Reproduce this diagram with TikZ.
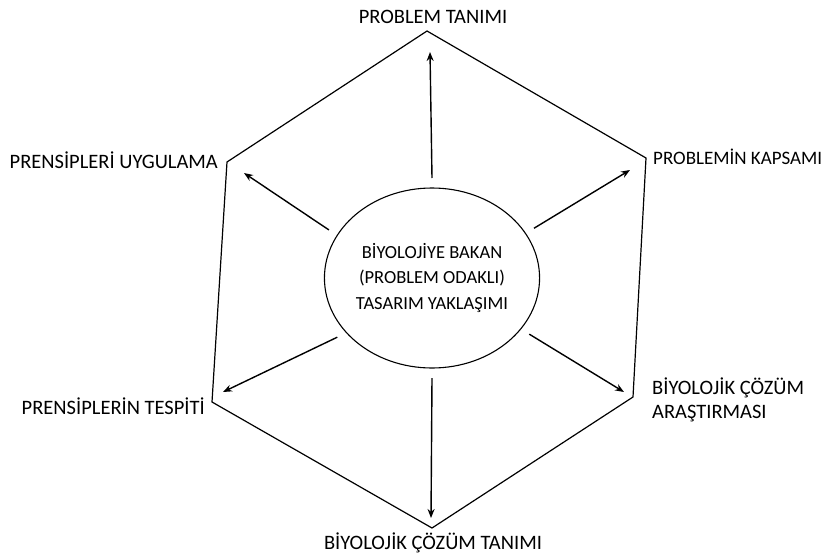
\documentclass[tikz,border=0pt]{standalone}
\usepackage{fontspec}
\setmainfont{Carlito}
\usetikzlibrary{arrows.meta,shapes.geometric}

\begin{document}
\begin{tikzpicture}[x=1pt, y=-1pt,
    hub/.style={ellipse, draw, line width=1.1pt, minimum width=200pt, minimum height=180pt,
      inner sep=0pt, outer sep=10pt, align=center, font=\fontsize{18.5}{25.5}\selectfont},
    lbl/.style={font=\fontsize{20.5}{23.5}\selectfont, inner sep=0pt},
    arr/.style={-{Stealth[length=9pt, width=7pt]}, line width=1.4pt}]
  \useasboundingbox (0,0) rectangle (832,554);
  % hexagon corners
  \coordinate (vT) at (427,31);
  \coordinate (vUR) at (646,158);
  \coordinate (vLR) at (633,397);
  \coordinate (vB) at (432,528);
  \coordinate (vLL) at (212,402);
  \coordinate (vUL) at (227,162);
  \draw[line width=1.2pt] (vT) -- (vUR) -- (vLR) -- (vB) -- (vLL) -- (vUL) -- cycle;

  \node[hub] (hub) at (432,278) {BİYOLOJİYE BAKAN\\(PROBLEM ODAKLI)\\TASARIM YAKLAŞIMI};

  % arrow tips
  \coordinate (tT) at (430,52);
  \coordinate (tUR) at (630,170);
  \coordinate (tLR) at (624,392);
  \coordinate (tB) at (431,518);
  \coordinate (tLL) at (223,392);
  \coordinate (tUL) at (244,173);
  \foreach \a/\t in {90/tT, 26/tUR, -30/tLR, -90/tB, 212/tLL, 155/tUL}
    \draw[arr] (hub.\a) -- (\t);

  \node[lbl] (top) at (433,17) {PROBLEM TANIMI};
  \node[lbl, anchor=east] (ul) at (218,160) {PRENSİPLERİ UYGULAMA};
  \node[lbl, anchor=west, font=\fontsize{19}{23}\selectfont] (ur) at (653,157) {PROBLEMİN KAPSAMI};
  \node[lbl, anchor=east] (ll) at (205,406) {PRENSİPLERİN TESPİTİ};
  \node[lbl, anchor=west, align=left] (lr) at (652,400) {BİYOLOJİK ÇÖZÜM\\ARAŞTIRMASI};
  \node[lbl] (bot) at (433,543) {BİYOLOJİK ÇÖZÜM TANIMI};
\end{tikzpicture}
\end{document}
